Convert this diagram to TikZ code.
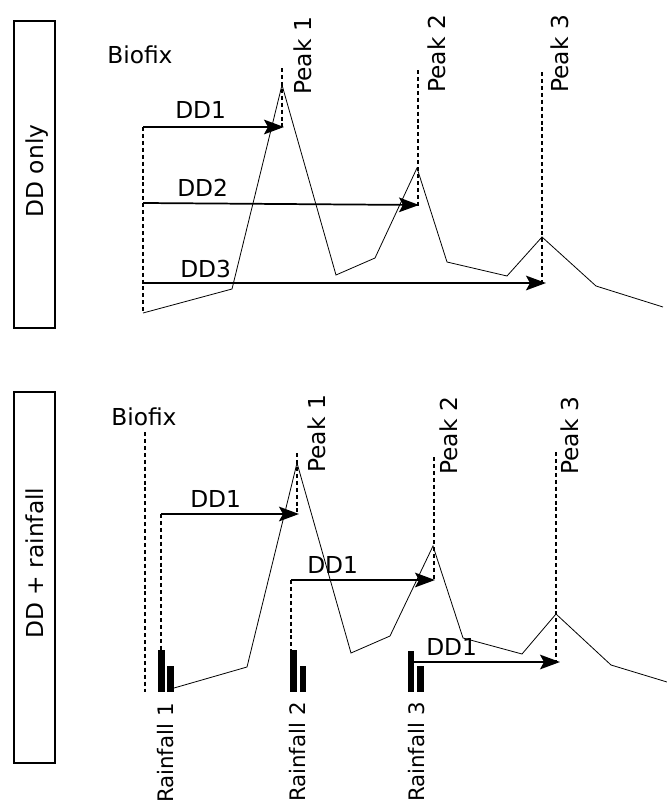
\documentclass[tikz,border=0pt]{standalone}
\usepackage{fontspec}
\setmainfont{DejaVu Sans}
\usetikzlibrary{arrows.meta}
\begin{document}
\begin{tikzpicture}[x=0.75pt,y=-0.75pt,
  lbl/.style={font=\fontsize{17.5pt}{21pt}\selectfont, inner sep=0pt},
  vlbl/.style={lbl, rotate=90},
  rlbl/.style={font=\fontsize{16pt}{19pt}\selectfont, inner sep=0pt, rotate=90},
  sidebox/.style={draw, line width=1.1pt},
  guide/.style={dash pattern=on 3pt off 2.2pt, line width=1pt},
  ddarrow/.style={line width=1.3pt, -{Stealth[length=15pt,width=11pt,inset=3pt]}},
  curve/.style={line width=0.6pt, line join=miter},
  bar/.style={fill=black, draw=none}]
\useasboundingbox (0,0) rectangle (667,807);

% ---------------- top panel: DD only ----------------
\draw[sidebox] (14,21) rectangle (55,328);
\node[vlbl, anchor=base] (tSide) at (43,171) {DD only};
\node[lbl, anchor=base west] (tBio) at (107,63) {Biofix};

\coordinate (tB0) at (143,313);
\coordinate (tB1) at (143,127);
\coordinate (tB2) at (143,203);
\coordinate (tB3) at (143,283);
\draw[guide] (tB1) -- (tB0);

\coordinate (tP1top) at (282,68);
\coordinate (tP1) at (284,127);
\coordinate (tP2top) at (418,70);
\coordinate (tP2) at (419,205);
\coordinate (tP3top) at (542,72);
\coordinate (tP3) at (542,283);
\draw[guide] (tP1top) -- (282,127);
\draw[guide] (tP2top) -- (418,206);
\draw[guide] (tP3top) -- (tP3);
\node[vlbl, anchor=base west] (tPk1) at (311,95) {Peak 1};
\node[vlbl, anchor=base west] (tPk2) at (445,93) {Peak 2};
\node[vlbl, anchor=base west] (tPk3) at (568,93) {Peak 3};

\draw[curve] (tB0) -- (232,289) -- (282,85) -- (336,275) -- (375,258) -- (417,168)
  -- (447,262) -- (507,276) -- (542,237) -- (596,286) -- (663,307);

\draw[ddarrow] (tB1) -- (tP1);
\draw[ddarrow] (tB2) -- (tP2);
\draw[ddarrow] (tB3) -- ([xshift=3]tP3);
\node[lbl, anchor=base west] (tDD1) at (175,118) {DD1};
\node[lbl, anchor=base west] (tDD2) at (177,196) {DD2};
\node[lbl, anchor=base west] (tDD3) at (180,277) {DD3};

% ---------------- bottom panel: DD + rainfall ----------------
\draw[sidebox] (14,392) rectangle (55,763);
\node[vlbl, anchor=base] (bSide) at (43,563) {DD + rainfall};
\node[lbl, anchor=base west] (bBio) at (111,425) {Biofix};
\draw[guide] (145,432) -- (145,692);

% rainfall bars
\fill[bar] (158,650) rectangle (165,692);
\fill[bar] (167,666) rectangle (174,692);
\fill[bar] (290,650) rectangle (297,692);
\fill[bar] (300,666) rectangle (306,692);
\fill[bar] (408,651) rectangle (414,692);
\fill[bar] (417,666) rectangle (424,692);
\node[rlbl, anchor=base east] (bR1) at (173,703) {Rainfall 1};
\node[rlbl, anchor=base east] (bR2) at (305,702) {Rainfall 2};
\node[rlbl, anchor=base east] (bR3) at (424,702) {Rainfall 3};

\coordinate (bR1s) at (161,514);
\coordinate (bR1b) at (161,650);
\coordinate (bR2s) at (291,580);
\coordinate (bR2b) at (291,650);
\coordinate (bR3s) at (414,662);
\draw[guide] (bR1s) -- (bR1b);
\draw[guide] (bR2s) -- (bR2b);

\coordinate (bP1top) at (297,453);
\coordinate (bP1) at (299,514);
\coordinate (bP2top) at (434,457);
\coordinate (bP2) at (435,580);
\coordinate (bP3top) at (556,452);
\coordinate (bP3) at (556,662);
\draw[guide] (bP1top) -- (297,514);
\draw[guide] (bP2top) -- (434,580);
\draw[guide] (bP3top) -- (bP3);
\node[vlbl, anchor=base west] (bPk1) at (325,473) {Peak 1};
\node[vlbl, anchor=base west] (bPk2) at (457,475) {Peak 2};
\node[vlbl, anchor=base west] (bPk3) at (578,475) {Peak 3};

\draw[curve] (174,688) -- (247,667) -- (297,463) -- (351,653) -- (390,636) -- (433,546)
  -- (463,638) -- (522,654) -- (556,614) -- (611,665) -- (667,682);

\draw[ddarrow] (bR1s) -- (bP1);
\draw[ddarrow] (bR2s) -- (bP2);
\draw[ddarrow] (bR3s) -- ([xshift=3]bP3);
\node[lbl, anchor=base west] (bDD1) at (190,507) {DD1};
\node[lbl, anchor=base west] (bDD2) at (307,573) {DD1};
\node[lbl, anchor=base west] (bDD3) at (426,655) {DD1};
\end{tikzpicture}
\end{document}
